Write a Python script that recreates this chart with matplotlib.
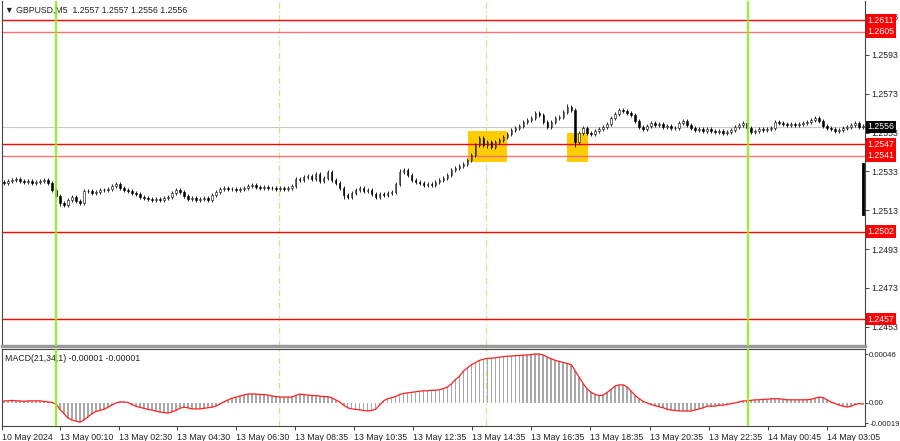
import numpy as np
import matplotlib.pyplot as plt
from matplotlib.patches import Rectangle
import matplotlib.transforms as mtransforms

plt.rcParams['font.family'] = ['Liberation Sans', 'DejaVu Sans']

# GBPUSD M5 closes, pips above 1.2500 (one bar every ~4 px of the screenshot)
base = 1.2500
first_open = 27.6
close_pips = [
    27.1, 28.1, 28.6, 29.1, 28.1, 27.6, 28.1, 27.1, 27.6, 28.1,
    28.6, 27.1, 23.5, 20.4, 16.8, 15.7, 18.3, 19.8, 17.8, 16.8,
    22.9, 22.9, 21.9, 22.4, 23.5, 23.5, 24.0, 25.5, 26.5, 24.5,
    23.5, 22.9, 21.9, 21.4, 19.8, 19.3, 18.8, 18.3, 18.8, 18.3,
    19.3, 19.8, 21.9, 23.5, 22.4, 20.4, 18.8, 19.3, 18.3, 18.8,
    19.3, 18.3, 20.9, 22.4, 24.0, 24.5, 24.0, 24.0, 23.5, 24.0,
    24.5, 25.5, 26.0, 25.0, 24.5, 25.0, 24.5, 24.5, 24.0, 24.5,
    24.0, 24.5, 25.5, 29.1, 28.6, 30.1, 30.7, 29.1, 31.7, 28.1,
    29.6, 32.7, 28.6, 27.1, 24.5, 20.9, 19.8, 21.9, 23.5, 24.5,
    22.9, 23.5, 21.4, 19.8, 21.4, 20.9, 21.9, 22.4, 26.5, 32.7,
    33.8, 31.2, 28.6, 27.6, 27.1, 26.0, 26.5, 26.0, 27.6, 28.6,
    29.6, 31.2, 33.8, 34.8, 35.8, 36.8, 38.9, 41.5, 46.6, 50.2,
    46.6, 48.2, 45.6, 48.2, 49.2, 50.7, 52.3, 54.4, 55.4, 56.4,
    58.5, 59.5, 60.5, 63.1, 62.1, 58.5, 55.9, 58.5, 60.5, 61.0,
    63.6, 66.2, 64.6, 48.2, 52.8, 55.4, 52.8, 52.3, 53.8, 54.9,
    55.9, 57.4, 60.5, 62.6, 64.6, 64.1, 63.1, 62.1, 59.0, 55.9,
    54.9, 56.4, 58.0, 56.9, 57.4, 55.9, 56.4, 55.4, 55.4, 58.0,
    59.0, 56.9, 55.4, 54.4, 54.9, 53.8, 54.9, 53.8, 53.3, 53.8,
    52.8, 53.3, 54.4, 55.9, 56.9, 58.0, 55.4, 53.3, 53.8, 54.9,
    54.4, 54.9, 55.4, 58.5, 58.0, 57.4, 56.9, 57.4, 56.9, 57.4,
    58.0, 58.5, 59.5, 60.5, 59.0, 56.4, 55.4, 54.9, 53.8, 54.4,
    55.4, 55.9, 56.9, 58.0, 55.9, 56.4,
]
low_spikes = {143: 45.6, 14: 15.2, 85: 19.0, 121: 45.0}
high_spikes = {99: 34.5, 81: 33.5, 141: 67.5, 154: 65.5}

# MACD(21,34,1) main, units of 1e-5
macd_vals = [
    2, 2, 2.5, 2, 2, 1.5, 2, 2, 2, 2,
    1.5, 1, 0.5, -1, -6, -10, -14, -16, -17, -18,
    -16, -13, -10, -8, -7, -6, -4, -2, 0, 1,
    1, 0.5, -1.5, -3, -4, -5, -6, -6.6, -7.5, -8.5,
    -9, -9.4, -8.5, -7, -5, -4, -4.5, -5.5, -5.6, -5.6,
    -5, -4.5, -4, -3, -1, 1, 2.8, 4.5, 5.5, 6.5,
    7.5, 8.4, 8.5, 8.4, 8, 8, 7.5, 6.6, 6, 5.6,
    5.6, 5.5, 5.6, 7, 8.4, 8, 7.5, 7, 7, 6.5,
    6, 6, 5, 3, 1, -2, -4.5, -5.5, -6, -6.6,
    -7, -7.5, -7, -6, -2, 2, 4, 5, 6, 8,
    9, 9.5, 10, 10.5, 11, 11.5, 11.5, 12, 12, 12.5,
    13.5, 15, 18, 22, 25, 30, 33, 36, 38, 40,
    41, 42, 42, 42.5, 43, 43.5, 44, 44, 44.5, 44.5,
    45, 45, 45.5, 46, 46, 45, 43, 41.5, 40, 39,
    38, 37, 36, 30, 24, 18, 13, 10, 8, 7,
    7.5, 10, 13, 16, 17, 17, 15, 11, 7, 4,
    1.5, 0, -1.5, -2.5, -3.5, -4.5, -6, -6.6, -7, -7.5,
    -7.5, -7.5, -7.5, -6.5, -5.5, -4.5, -3, -3, -3, -2,
    -2, -1.5, -0.5, 0, 1, 2, 2, 2.5, 3, 3,
    3.5, 3.5, 4, 4, 4, 3.5, 3, 3, 3, 3,
    3, 3, 3.5, 4.5, 5.5, 5, 3, 1, -0.5, -2,
    -3, -3.8, -3, -1.5, -0.5, -1,
]

levels = [1.2611, 1.2605, 1.2547, 1.2541, 1.2502, 1.2457]
level_strong = [True, False, True, False, True, True]
price_ticks = [1.2453, 1.2473, 1.2493, 1.2513, 1.2533, 1.2553, 1.2573, 1.2593, 1.2613]
bid = 1.2556

time_labels = ['10 May 2024', '13 May 00:10', '13 May 02:30', '13 May 04:30', '13 May 06:30',
               '13 May 08:35', '13 May 10:35', '13 May 12:35', '13 May 14:35', '13 May 16:35',
               '13 May 18:35', '13 May 20:35', '13 May 22:35', '14 May 00:45', '14 May 03:05']
time_px = [2, 60, 119, 177, 236, 295, 354, 413, 472, 531, 590, 650, 709, 768, 827]

n = len(close_pips)
fs = 6.3


def px2x(px):
    return -0.5 + (px - 2) * n / 863.0


closes = base + np.array(close_pips) / 10000.0
opens = np.concatenate([[base + first_open / 10000.0], closes[:-1]])
highs = np.maximum(opens, closes) + 0.00009
lows = np.minimum(opens, closes) - 0.00009
for k, v in low_spikes.items():
    lows[k] = base + v / 10000.0
for k, v in high_spikes.items():
    highs[k] = base + v / 10000.0
macd = np.array(macd_vals) / 100000.0
signal = macd.copy()  # SMA(1) of MACD

fig = plt.figure(figsize=(9, 4.41), dpi=100)
ax = fig.add_axes([2 / 900, 1 - 346 / 441, 863 / 900, 345 / 441])
ax2 = fig.add_axes([2 / 900, 1 - 426 / 441, 863 / 900, 77 / 441])

x = np.arange(n)
txt = '#222222'

# main panel
ax.set_xlim(-0.5, n - 0.5)
ax.set_ylim(1.24431, 1.26208)

ax.add_patch(Rectangle((px2x(468), 1.25379), px2x(507) - px2x(468), 1.25538 - 1.25379,
                       facecolor='#FFCC00', edgecolor='none', zorder=1))
ax.add_patch(Rectangle((px2x(567), 1.25379), px2x(588) - px2x(567), 1.25528 - 1.25379,
                       facecolor='#FFCC00', edgecolor='none', zorder=1))

for lv, strong in zip(levels, level_strong):
    ax.axhline(lv, color='#FF0000' if strong else '#FF7070', lw=1.0, zorder=2)
ax.axhline(bid, color='#C8C8C8', lw=0.8, zorder=2)

up = closes >= opens
ax.vlines(x, lows, highs, color='black', lw=0.6, zorder=3)
ax.bar(x[up], (closes - opens)[up] + 0.000005, bottom=opens[up], width=0.42,
       facecolor='white', edgecolor='black', lw=0.4, zorder=4)
ax.bar(x[~up], (closes - opens)[~up] - 0.000005, bottom=opens[~up], width=0.42,
       facecolor='black', edgecolor='black', lw=0.4, zorder=4)
# black bar at the right edge of the chart window
ax.plot([0.998, 0.998], [1.2537, 1.2511], color='black', lw=2,
        transform=mtransforms.blended_transform_factory(ax.transAxes, ax.transData),
        clip_on=False, zorder=5)

for a in (ax, ax2):
    a.axvline(px2x(56), color='#7CFC00', lw=1.3, zorder=6)
    a.axvline(px2x(748), color='#7CFC00', lw=1.3, zorder=6)
    a.axvline(px2x(279), color='#B8F08A', lw=0.9, ls=(0, (5, 2, 1, 2)), zorder=0)
    a.axvline(px2x(486), color='#B8F08A', lw=0.9, ls=(0, (5, 2, 1, 2)), zorder=0)

ax.yaxis.tick_right()
ax.set_yticks(price_ticks)
ax.set_yticklabels([f'{p:.4f}' for p in price_ticks])
ax.tick_params(axis='y', length=3, width=0.6, pad=1.5, labelsize=fs, colors=txt)
ax.set_xticks([])
ax.spines['top'].set_visible(False)
ax.spines['bottom'].set_color('#9A9A9A')
ax.spines['bottom'].set_linewidth(2.5)
for s in ('left', 'right'):
    ax.spines[s].set_color('#444444')
    ax.spines[s].set_linewidth(0.8)

trans = mtransforms.blended_transform_factory(ax.transAxes, ax.transData)
for lv in levels:
    ax.text(1.003, lv, f'{lv:.4f}', transform=trans, fontsize=fs, color='white',
            va='center', ha='left', clip_on=False, zorder=10,
            bbox=dict(boxstyle='square,pad=0.2', fc='#FF0000', ec='none'))
ax.text(1.003, bid, f'{bid:.4f}', transform=trans, fontsize=fs, color='white',
        va='center', ha='left', clip_on=False, zorder=10,
        bbox=dict(boxstyle='square,pad=0.2', fc='black', ec='none'))

ax.text(0.004, 0.985, '\u25BC GBPUSD,M5  1.2557 1.2557 1.2556 1.2556', transform=ax.transAxes,
        fontsize=fs, color=txt, va='top', ha='left')

# MACD panel
ax2.set_xlim(-0.5, n - 0.5)
ax2.set_ylim(-0.000216, 0.000507)
ax2.bar(x, macd, width=0.45, color='#A8A8A8', zorder=2)
ax2.plot(x, signal, color='#FF2020', lw=0.9, zorder=3)
ax2.yaxis.tick_right()
ax2.set_yticks([-0.00019, 0.0, 0.00046])
ax2.set_yticklabels(['-0.00019', '0.00', '0.00046'])
ax2.tick_params(axis='y', length=2, width=0.6, pad=1, labelsize=5.6, colors=txt)
ax2.set_xticks([px2x(p) for p in time_px])
ax2.set_xticklabels(time_labels)
ax2.tick_params(axis='x', length=3, width=0.6, pad=2, labelsize=fs, colors=txt)
for lab in ax2.get_xticklabels():
    lab.set_ha('left')
for s in ax2.spines.values():
    s.set_color('#444444')
    s.set_linewidth(0.8)
ax2.text(0.004, 0.93, 'MACD(21,34,1) -0.00001 -0.00001', transform=ax2.transAxes,
         fontsize=fs, color=txt, va='top', ha='left')

fig.savefig('out.png', dpi=100)
